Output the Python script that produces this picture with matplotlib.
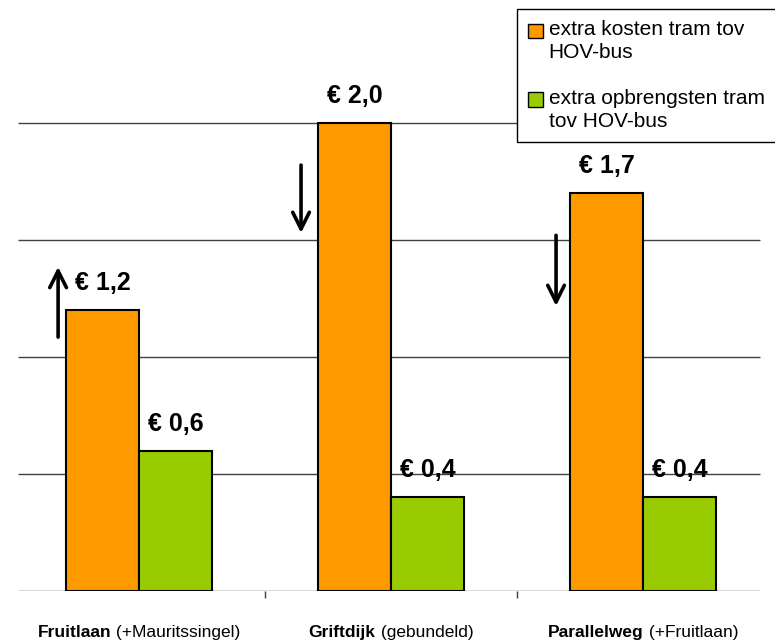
import numpy as np
import matplotlib.pyplot as plt
from matplotlib.patches import Patch, Rectangle
from matplotlib.legend_handler import HandlerPatch

plt.rcParams['font.family'] = ['Liberation Sans', 'DejaVu Sans']

# data
routes_bold = ['Fruitlaan', 'Griftdijk', 'Parallelweg']
routes_rest = [' (+Mauritssingel)', ' (gebundeld)', ' (+Fruitlaan)']
kosten = [1.2, 2.0, 1.7]
opbrengsten = [0.6, 0.4, 0.4]
legend_labels = ['extra kosten tram tov\nHOV-bus', 'extra opbrengsten tram\ntov HOV-bus']
grid_vals = [0, 0.5, 1.0, 1.5, 2.0]
# arrows: (x start, y start, x end, y end) in data units
arrows = [(-0.321, 1.085, -0.321, 1.385),
          (0.643, 1.82, 0.643, 1.53),
          (1.655, 1.52, 1.655, 1.218)]

c_orange = '#FF9900'
c_green = '#99CC00'

fig = plt.figure(figsize=(7.75, 6.43), dpi=100)
W, H = 775, 643
ax = fig.add_axes([13 / W, (H - 591) / H, (769 - 13) / W, (591 - 6) / H])

x = np.arange(len(kosten))
bw = 0.29
ax.bar(x - bw / 2, kosten, bw, color=c_orange, edgecolor='black', linewidth=1.5, zorder=3)
ax.bar(x + bw / 2, opbrengsten, bw, color=c_green, edgecolor='black', linewidth=1.5, zorder=3)

for xi, v in zip(x - bw / 2, kosten):
    ax.annotate('€ ' + f'{v:.1f}'.replace('.', ','), xy=(xi, v), xytext=(0, 14.4),
                textcoords='offset points', ha='center', va='baseline',
                fontsize=18, fontweight='bold')
for xi, v in zip(x + bw / 2, opbrengsten):
    ax.annotate('€ ' + f'{v:.1f}'.replace('.', ','), xy=(xi, v), xytext=(0, 14.4),
                textcoords='offset points', ha='center', va='baseline',
                fontsize=18, fontweight='bold')

for x0, y0, x1, y1 in arrows:
    ax.annotate('', xy=(x1, y1), xytext=(x0, y0),
                arrowprops=dict(arrowstyle='->', lw=2.6, color='black', mutation_scale=30,
                                shrinkA=0, shrinkB=0))

ax.set_xlim(-0.5, 2.5)
ax.set_ylim(0, 2.5)
ax.hlines(grid_vals, -0.48, 2.464, color='#404040', linewidth=1, zorder=1)
ax.set_yticks([])
ax.set_xticks([0.5, 1.5])
ax.set_xticklabels([])
ax.tick_params(axis='x', length=5, color='#404040', width=1)
for s in ['top', 'right', 'left', 'bottom']:
    ax.spines[s].set_visible(False)

# category labels: bold name + normal remainder
trans = ax.get_xaxis_transform()
pairs = []
for i, (b, r) in enumerate(zip(routes_bold, routes_rest)):
    t1 = ax.annotate(b, xy=(i, 0), xycoords=trans, xytext=(0, -33),
                     textcoords='offset points', ha='left', va='baseline',
                     fontsize=12.5, fontweight='bold')
    t2 = ax.annotate(r, xy=(1, 0), xycoords=t1, ha='left', va='bottom',
                     fontsize=12.5)
    pairs.append((t1, t2))
fig.canvas.draw()
r = fig.canvas.get_renderer()
for t1, t2 in pairs:
    w = t1.get_window_extent(r).width + t2.get_window_extent(r).width
    t1.xyann = (-w / 2 * 72 / fig.dpi, -33)


def top_patch(legend, orig_handle, xdescent, ydescent, width, height, fontsize):
    # put the square next to the first line of a two-line label
    return Rectangle((-xdescent, -ydescent + 0.5 * fontsize), width, height)


handles = [Patch(facecolor=c_orange, edgecolor='black', linewidth=1),
           Patch(facecolor=c_green, edgecolor='black', linewidth=1)]
leg = fig.legend(handles, legend_labels, loc='upper right', bbox_to_anchor=(776 / W, 1 - 9 / H),
                 fontsize=15, frameon=True, fancybox=False, framealpha=1, edgecolor='black',
                 handlelength=0.72, handleheight=0.72, handletextpad=0.25,
                 labelspacing=1.3, borderpad=0.55, borderaxespad=0,
                 handler_map={Patch: HandlerPatch(patch_func=top_patch)})
leg.get_frame().set_linewidth(1)
for t in leg.get_texts():
    t.set_linespacing(1.24)

fig.savefig('out.png', dpi=100)
